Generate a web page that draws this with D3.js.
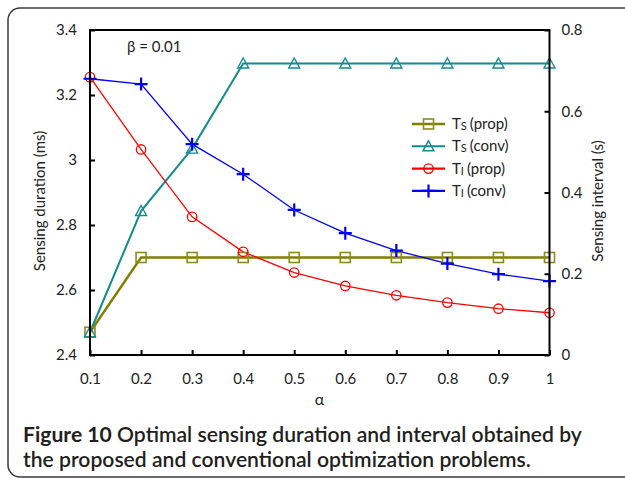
<!DOCTYPE html>
<html>
<head>
<meta charset="utf-8">
<script src="https://cdn.jsdelivr.net/npm/d3@7/dist/d3.min.js"></script>
<style>
  html, body { margin: 0; padding: 0; background: #fff; }
  svg { display: block; }
  text { font-family: Lato, "Open Sans", sans-serif; fill: #222; }
</style>
</head>
<body>
<svg id="chart" width="625" height="480"></svg>
<script>
// Optimization weight α on the horizontal axis
const alphas = [0.1, 0.2, 0.3, 0.4, 0.5, 0.6, 0.7, 0.8, 0.9, 1.0];
// Sensing duration T_S in ms (left axis)
const tsProp = [2.47, 2.70, 2.70, 2.70, 2.70, 2.70, 2.70, 2.70, 2.70, 2.70];
const tsConv = [2.47, 2.843, 3.035, 3.297, 3.297, 3.297, 3.297, 3.297, 3.297, 3.297];
// Sensing interval T_I in s (right axis)
const tiProp = [0.684, 0.506, 0.340, 0.254, 0.203, 0.170, 0.147, 0.129, 0.114, 0.104];
const tiConv = [0.680, 0.667, 0.519, 0.445, 0.357, 0.300, 0.257, 0.225, 0.199, 0.182];
// Tick values and labels
const xTicks = [0.1, 0.2, 0.3, 0.4, 0.5, 0.6, 0.7, 0.8, 0.9, 1.0];
const xTickLabels = ["0.1", "0.2", "0.3", "0.4", "0.5", "0.6", "0.7", "0.8", "0.9", "1"];
const leftTicks = [2.4, 2.6, 2.8, 3.0, 3.2, 3.4];
const leftTickLabels = ["2.4", "2.6", "2.8", "3", "3.2", "3.4"];
const rightTicks = [0, 0.2, 0.4, 0.6, 0.8];
const rightTickLabels = ["0", "0.2", "0.4", "0.6", "0.8"];

const svg = d3.select("#chart");

// Rounded figure frame (right side runs past the page edge)
svg.append("rect")
  .attr("x", 8).attr("y", 8).attr("width", 660).attr("height", 469)
  .attr("rx", 12).attr("ry", 12)
  .attr("fill", "none").attr("stroke", "#3a3a3a").attr("stroke-width", 1.5);

const L = 90, R = 549.5, T = 30, B = 355;
const x = d3.scaleLinear().domain([0.1, 1.0]).range([L, R]);
const yL = d3.scaleLinear().domain([2.4, 3.4]).range([B, T]);
const yR = d3.scaleLinear().domain([0, 0.8]).range([B, T]);

const fmt = (vals, labels) => v => labels[vals.findIndex(t => Math.abs(t - v) < 1e-9)];

// Axes with inward ticks
const gx = svg.append("g").attr("transform", `translate(0,${B})`)
  .call(d3.axisBottom(x).tickValues(xTicks).tickFormat(fmt(xTicks, xTickLabels))
    .tickSizeInner(-5).tickSizeOuter(0).tickPadding(18));
const gl = svg.append("g").attr("transform", `translate(${L},0)`)
  .call(d3.axisLeft(yL).tickValues(leftTicks).tickFormat(fmt(leftTicks, leftTickLabels))
    .tickSizeInner(-5).tickSizeOuter(0).tickPadding(13));
const gr = svg.append("g").attr("transform", `translate(${R},0)`)
  .call(d3.axisRight(yR).tickValues(rightTicks).tickFormat(fmt(rightTicks, rightTickLabels))
    .tickSizeInner(-5).tickSizeOuter(0).tickPadding(12));
[gx, gl, gr].forEach(g => {
  g.select(".domain").remove();
  g.selectAll(".tick line").attr("stroke", "#000").attr("stroke-width", 2);
  g.selectAll(".tick text").attr("font-size", 15).attr("fill", "#222")
    .attr("font-family", "Lato, 'Open Sans', sans-serif");
});

// Series (straight segments between computed points)
const series = [
  { name: "S", tag: "(prop)", vals: tsProp, y: yL, color: "#808000", mcolor: "#8c8c1e", width: 2.4, marker: "square" },
  { name: "S", tag: "(conv)", vals: tsConv, y: yL, color: "#138c8c", mcolor: "#138c8c", width: 2, marker: "triangle" },
  { name: "I", tag: "(prop)", vals: tiProp, y: yR, color: "#ff0000", mcolor: "#ff0000", width: 1.3, marker: "circle" },
  { name: "I", tag: "(conv)", vals: tiConv, y: yR, color: "#0000ff", mcolor: "#0000ff", width: 1.3, marker: "plus" }
];

function drawMarker(g, type, cx, cy, color) {
  if (type === "square") {
    g.append("rect").attr("x", cx - 5).attr("y", cy - 5).attr("width", 10).attr("height", 10)
      .attr("fill", "none").attr("stroke", color).attr("stroke-width", 1.6);
  } else if (type === "triangle") {
    g.append("path").attr("d", `M${cx},${cy - 5.5}L${cx + 5.5},${cy + 4.5}L${cx - 5.5},${cy + 4.5}Z`)
      .attr("fill", "none").attr("stroke", color).attr("stroke-width", 1.4);
  } else if (type === "circle") {
    g.append("circle").attr("cx", cx).attr("cy", cy).attr("r", 4.7)
      .attr("fill", "none").attr("stroke", color).attr("stroke-width", 1.3);
  } else {
    g.append("path").attr("d", `M${cx - 6.5},${cy}H${cx + 6.5}M${cx},${cy - 6.5}V${cy + 6.5}`)
      .attr("fill", "none").attr("stroke", color).attr("stroke-width", 2.2);
  }
}

series.forEach(s => {
  const line = d3.line().x((d, i) => x(alphas[i])).y(d => s.y(d));
  svg.append("path").datum(s.vals).attr("d", line)
    .attr("fill", "none").attr("stroke", s.color).attr("stroke-width", s.width);
});
series.forEach(s => {
  const g = svg.append("g");
  s.vals.forEach((v, i) => drawMarker(g, s.marker, x(alphas[i]), s.y(v), s.mcolor));
});

// Plot box
svg.append("rect").attr("x", L).attr("y", T).attr("width", R - L).attr("height", B - T)
  .attr("fill", "none").attr("stroke", "#000").attr("stroke-width", 2);

// Legend
const legend = svg.append("g");
series.forEach((s, i) => {
  const yy = 124 + i * 22.3;
  legend.append("line").attr("x1", 412).attr("x2", 445).attr("y1", yy).attr("y2", yy)
    .attr("stroke", s.color).attr("stroke-width", s.width < 2 ? 2.2 : s.width);
  drawMarker(legend, s.marker, 428.5, yy, s.mcolor);
  const t = legend.append("text").attr("x", 452).attr("y", yy + 5).attr("font-size", 15);
  t.append("tspan").text("T");
  t.append("tspan").attr("font-size", 11).attr("dy", 1).text(s.name);
  t.append("tspan").attr("dy", -1).attr("dx", 3).text(s.tag);
});

// Annotation
svg.append("text").attr("x", 127).attr("y", 52).attr("font-size", 15).text("β = 0.01");

// Axis titles
svg.append("text").attr("x", 319.5).attr("y", 405).attr("text-anchor", "middle")
  .attr("font-size", 16).text("α");
svg.append("text").attr("transform", "translate(45,201) rotate(-90)")
  .attr("text-anchor", "middle").attr("font-size", 15).text("Sensing duration (ms)");
svg.append("text").attr("transform", "translate(603,201) rotate(-90)")
  .attr("text-anchor", "middle").attr("font-size", 15).text("Sensing interval (s)");

// Caption, sized so the first line spans the text block width
const capFont = "'Open Sans', sans-serif";
const cap1 = svg.append("text").attr("x", 23).attr("y", 442)
  .attr("font-family", capFont).attr("font-size", 18).attr("font-weight", 600)
  .style("fill", "#231f20");
cap1.append("tspan").attr("font-weight", 700).text("Figure 10");
cap1.append("tspan").text(" Optimal sensing duration and interval obtained by");
const capSize = 18 * 559 / cap1.node().getComputedTextLength();
cap1.attr("font-size", capSize);
svg.append("text").attr("x", 23).attr("y", 467)
  .attr("font-family", capFont).attr("font-size", capSize).attr("font-weight", 600)
  .style("fill", "#231f20")
  .text("the proposed and conventional optimization problems.");
</script>
</body>
</html>
